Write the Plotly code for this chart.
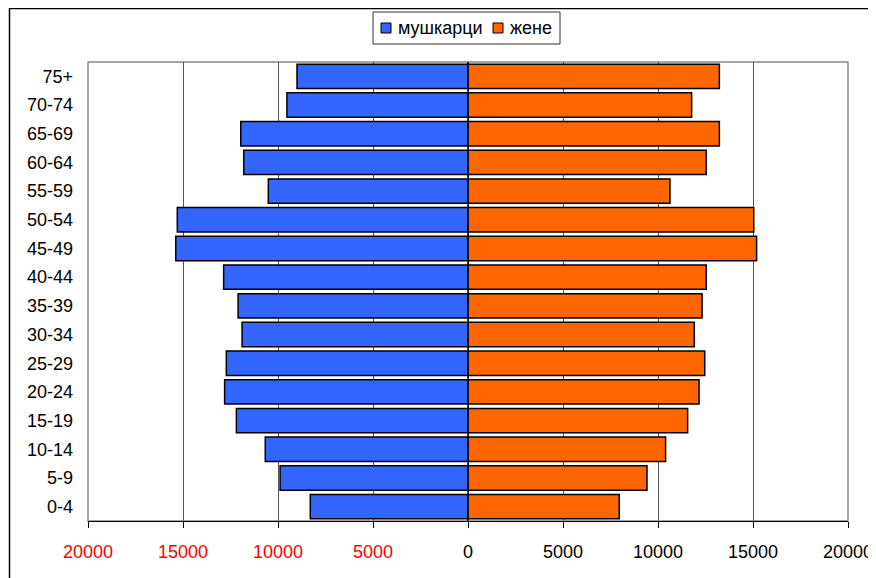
import plotly.graph_objects as go

age_groups = ["0-4", "5-9", "10-14", "15-19", "20-24", "25-29", "30-34", "35-39",
              "40-44", "45-49", "50-54", "55-59", "60-64", "65-69", "70-74", "75+"]
men = [8300, 9890, 10670, 12190, 12810, 12720, 11890, 12100,
       12860, 15380, 15300, 10510, 11800, 11960, 9530, 9000]
women = [7960, 9420, 10400, 11560, 12160, 12460, 11910, 12320,
         12540, 15190, 15040, 10630, 12540, 13230, 11770, 13230]
series_names = ["мушкарци", "жене"]
series_colors = ["#3366FF", "#FF6600"]
tick_values = [-20000, -15000, -10000, -5000, 0, 5000, 10000, 15000, 20000]
tick_labels = ["20000", "15000", "10000", "5000", "0", "5000", "10000", "15000", "20000"]

men_neg = [-v for v in men]
ticktext = [f'<span style="color:#FF0000">{t}</span>' if v < 0 else t
            for v, t in zip(tick_values, tick_labels)]

fig = go.Figure()
fig.add_trace(go.Bar(y=age_groups, x=men_neg, orientation="h", name=series_names[0],
                     marker=dict(color=series_colors[0], line=dict(color="#000000", width=1.5)),
                     customdata=men, hovertemplate="%{y}: %{customdata}<extra></extra>"))
fig.add_trace(go.Bar(y=age_groups, x=women, orientation="h", name=series_names[1],
                     marker=dict(color=series_colors[1], line=dict(color="#000000", width=1.5))))

# page has an 8px body margin; work in page coordinates and convert
OFF = 8
W, H = 876 - OFF, 578 - OFF
L, R, T, B = 88 - OFF, 848 - OFF, 62 - OFF, 521 - OFF
pw, ph = R - L, B - T

def px(x):
    return (x - OFF - L) / pw

def py(y):
    return (B - (y - OFF)) / ph

shapes = [
    dict(type="rect", xref="paper", yref="paper", x0=0, x1=1, y0=0, y1=1,
         line=dict(color="#888888", width=1.5), layer="below"),
    dict(type="line", xref="x", yref="paper", x0=0, x1=0, y0=0, y1=1,
         line=dict(color="black", width=1.5)),
    # outer chart frame (left and top edges visible)
    dict(type="rect", xref="paper", yref="paper",
         x0=px(9.5), x1=px(900), y0=py(600), y1=py(8.5),
         line=dict(color="black", width=1.5)),
    # legend box
    dict(type="rect", xref="paper", yref="paper",
         x0=px(373), x1=px(560), y0=py(44), y1=py(12),
         line=dict(color="#333333", width=1), fillcolor="white"),
]
annotations = []
legend_sym_x = [381, 493]
legend_txt_x = [396, 508]
for sx, tx, name, col in zip(legend_sym_x, legend_txt_x, series_names, series_colors):
    shapes.append(dict(type="rect", xref="paper", yref="paper",
                       x0=px(sx), x1=px(sx + 10), y0=py(33), y1=py(23),
                       line=dict(color="black", width=1), fillcolor=col))
    annotations.append(dict(xref="paper", yref="paper", x=px(tx), y=py(28),
                            xanchor="left", yanchor="middle", showarrow=False,
                            text=name, font=dict(size=18, color="black")))

fig.update_layout(
    width=W, height=H,
    margin=dict(l=L, r=W - R, t=T, b=H - B, autoexpand=False),
    barmode="overlay", bargap=0.15,
    paper_bgcolor="white", plot_bgcolor="white",
    font=dict(family="Liberation Sans, Arial, sans-serif", size=18, color="black"),
    showlegend=False,
    xaxis=dict(range=[-20000, 20000], tickvals=tick_values, ticktext=ticktext,
               showgrid=True, gridcolor="#555555", gridwidth=1,
               zeroline=False, showline=True, linecolor="black", linewidth=1,
               ticks="outside", ticklen=6, tickcolor="black",
               ticklabelstandoff=8, fixedrange=True, automargin=False),
    yaxis=dict(categoryorder="array", categoryarray=age_groups,
               showgrid=False, zeroline=False, showline=False,
               ticks="", ticklabelstandoff=14, fixedrange=True, automargin=False),
    shapes=shapes,
    annotations=annotations,
)

fig.write_html("out.html")
